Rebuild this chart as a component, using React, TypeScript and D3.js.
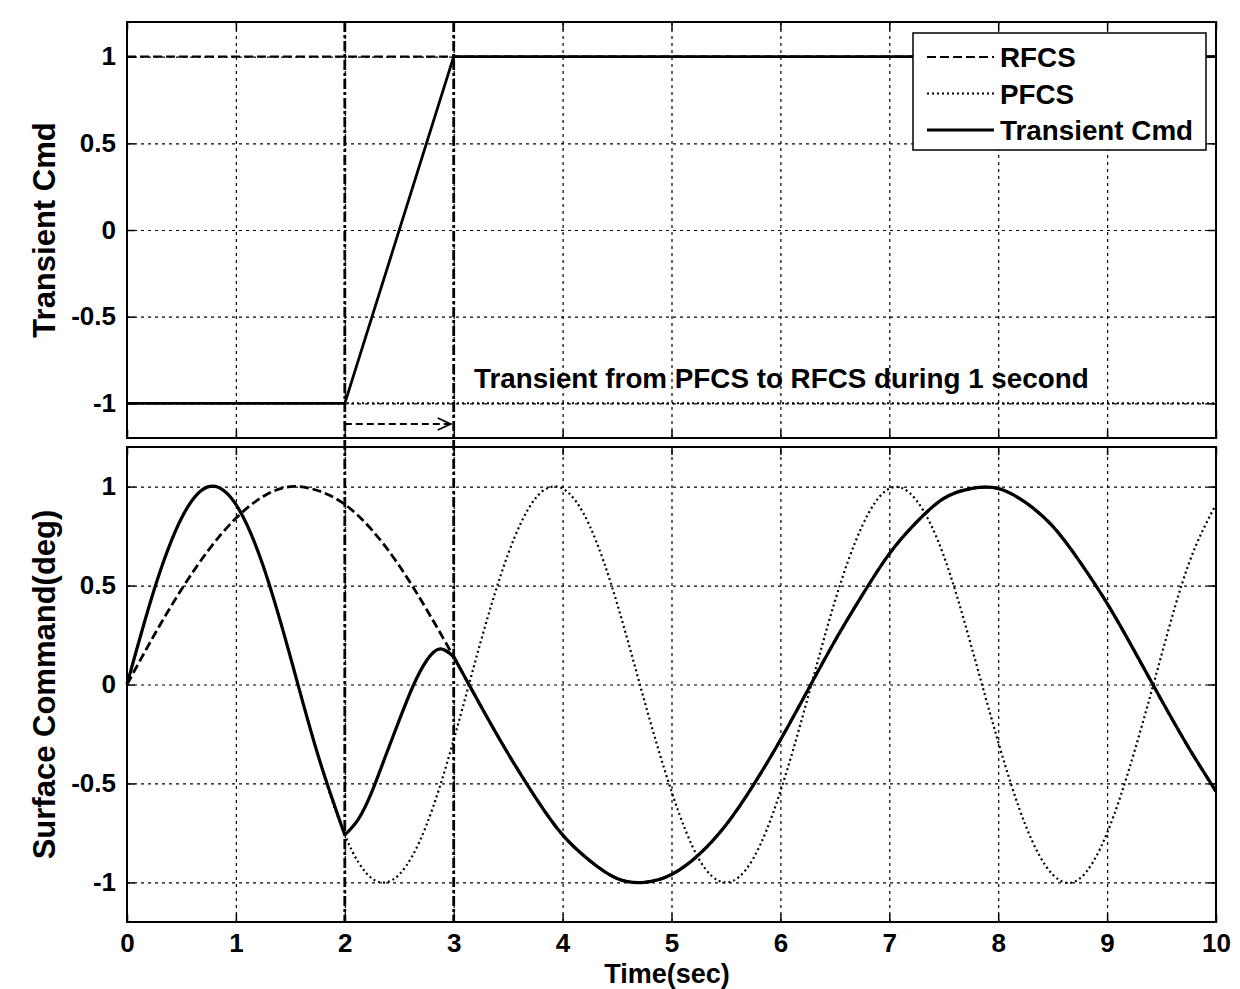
import React, { useEffect, useRef } from "react";
import * as d3 from "d3";

const W = 1240,
  H = 989;
const plotLeft = 127,
  plotRight = 1216;
const topBox = { y0: 22, y1: 438 };
const botBox = { y0: 447, y1: 922 };
const font = "'Liberation Sans', Arial, Helvetica, sans-serif";

// axes
const xTicks = [0, 1, 2, 3, 4, 5, 6, 7, 8, 9, 10];
const yTicks = [-1, -0.5, 0, 0.5, 1];
const yTickLabels = ["-1", "-0.5", "0", "0.5", "1"];

// bottom panel, values every 0.25 s
const timeSurface = [
  0, 0.25, 0.5, 0.75, 1, 1.25, 1.5, 1.75, 2, 2.25, 2.5, 2.75, 3, 3.25, 3.5, 3.75, 4, 4.25, 4.5, 4.75, 5,
  5.25, 5.5, 5.75, 6, 6.25, 6.5, 6.75, 7, 7.25, 7.5, 7.75, 8, 8.25, 8.5, 8.75, 9, 9.25, 9.5, 9.75, 10,
];
const rfcsSurface = [
  0, 0.25, 0.48, 0.68, 0.84, 0.95, 1.0, 0.98, 0.91, 0.78, 0.6, 0.38, 0.14, -0.11, -0.35, -0.57, -0.76,
  -0.89, -0.98, -1.0, -0.96, -0.86, -0.71, -0.51, -0.28, -0.03, 0.22, 0.45, 0.66, 0.82, 0.94, 0.99, 0.99,
  0.92, 0.8, 0.62, 0.41, 0.17, -0.08, -0.32, -0.54,
];
const pfcsSurface = [
  0, 0.48, 0.84, 1.0, 0.91, 0.6, 0.14, -0.35, -0.76, -0.98, -0.96, -0.71, -0.28, 0.22, 0.66, 0.94, 0.99,
  0.8, 0.41, -0.08, -0.54, -0.88, -1.0, -0.88, -0.54, -0.07, 0.42, 0.8, 0.99, 0.93, 0.65, 0.2, -0.29,
  -0.71, -0.96, -0.98, -0.75, -0.34, 0.15, 0.61, 0.91,
];
const transientTime = [
  0, 0.25, 0.5, 0.75, 1, 1.25, 1.5, 1.75, 2, 2.125, 2.25, 2.375, 2.5, 2.625, 2.75, 2.875, 3, 3.25, 3.5,
  3.75, 4, 4.25, 4.5, 4.75, 5, 5.25, 5.5, 5.75, 6, 6.25, 6.5, 6.75, 7, 7.25, 7.5, 7.75, 8, 8.25, 8.5,
  8.75, 9, 9.25, 9.5, 9.75, 10,
];
const transientSurface = [
  0, 0.48, 0.84, 1.0, 0.91, 0.6, 0.14, -0.35, -0.76, -0.68, -0.54, -0.36, -0.18, -0.01, 0.12, 0.18,
  0.14, -0.11, -0.35, -0.57, -0.76, -0.89, -0.98, -1.0, -0.96, -0.86, -0.71, -0.51, -0.28, -0.03, 0.22,
  0.45, 0.66, 0.82, 0.94, 0.99, 0.99, 0.92, 0.8, 0.62, 0.41, 0.17, -0.08, -0.32, -0.54,
];

// top panel
const cmdTime = [0, 2, 3, 10];
const transientCmd = [-1, -1, 1, 1];
const flatTime = [0, 10];
const rfcsCmd = [1, 1];
const pfcsCmd = [-1, -1];

const switchTimes = [2, 3];
const legendLabels = ["RFCS", "PFCS", "Transient Cmd"];
const legendDash = ["9,4", "2,3", null];
const annotation = "Transient from PFCS to RFCS during 1 second";

const App = () => {
  const ref = useRef<SVGSVGElement>(null);

  useEffect(() => {
    const svg = d3.select(ref.current);
    svg.selectAll("*").remove();

    const x = d3.scaleLinear().domain([0, 10]).range([plotLeft, plotRight]);
    const yTop = d3.scaleLinear().domain([-1.2, 1.2]).range([topBox.y1, topBox.y0]);
    const yBot = d3.scaleLinear().domain([-1.2, 1.2]).range([botBox.y1, botBox.y0]);

    const panel = (y: d3.ScaleLinear<number, number>, box: { y0: number; y1: number }, showX: boolean) => {
      const g = svg.append("g");
      const h = box.y1 - box.y0;
      const w = plotRight - plotLeft;
      g.append("rect")
        .attr("x", plotLeft)
        .attr("y", box.y0)
        .attr("width", w)
        .attr("height", h)
        .attr("fill", "#fff");

      // dotted grid
      const gx = g
        .append("g")
        .attr("transform", `translate(0,${box.y1})`)
        .call(d3.axisBottom(x).tickValues(xTicks.slice(1, -1)).tickSize(-h).tickFormat(() => ""));
      const gy = g
        .append("g")
        .attr("transform", `translate(${plotLeft},0)`)
        .call(d3.axisLeft(y).tickValues(yTicks).tickSize(-w).tickFormat(() => ""));
      [gx, gy].forEach((a) => {
        a.select(".domain").remove();
        a.selectAll("line").attr("stroke", "#000").attr("stroke-width", 1.2).attr("stroke-dasharray", "3,4");
      });

      // inside ticks and labels
      const ax = g
        .append("g")
        .attr("transform", `translate(0,${box.y1})`)
        .call(
          d3
            .axisBottom(x)
            .tickValues(xTicks)
            .tickSize(-8)
            .tickPadding(12)
            .tickFormat((d) => (showX ? d3.format("d")(d as number) : ""))
        );
      const ax2 = g
        .append("g")
        .attr("transform", `translate(0,${box.y0})`)
        .call(d3.axisTop(x).tickValues(xTicks).tickSize(-8).tickFormat(() => ""));
      const ay = g
        .append("g")
        .attr("transform", `translate(${plotLeft},0)`)
        .call(
          d3
            .axisLeft(y)
            .tickValues(yTicks)
            .tickSize(-8)
            .tickPadding(11)
            .tickFormat((d, i) => yTickLabels[i])
        );
      const ay2 = g
        .append("g")
        .attr("transform", `translate(${plotRight},0)`)
        .call(d3.axisRight(y).tickValues(yTicks).tickSize(-8).tickFormat(() => ""));
      [ax, ax2, ay, ay2].forEach((a) => {
        a.select(".domain").remove();
        a.selectAll("line").attr("stroke", "#000").attr("stroke-width", 1.5);
        a.selectAll("text")
          .attr("fill", "#000")
          .attr("font-family", font)
          .attr("font-weight", "bold")
          .attr("font-size", 26);
      });
      return g;
    };

    const gTop = panel(yTop, topBox, false);
    const gBot = panel(yBot, botBox, true);

    const series = (
      g: d3.Selection<SVGGElement, unknown, null, undefined>,
      t: number[],
      v: number[],
      y: d3.ScaleLinear<number, number>,
      dash: string | null,
      width: number,
      curve: d3.CurveFactory
    ) => {
      const line = d3
        .line<number>()
        .x((d, i) => x(t[i]))
        .y((d) => y(d))
        .curve(curve);
      g.append("path")
        .attr("d", line(v))
        .attr("fill", "none")
        .attr("stroke", "#000")
        .attr("stroke-width", width)
        .attr("stroke-dasharray", dash);
    };

    // top panel lines
    series(gTop, flatTime, rfcsCmd, yTop, "9,4", 2.4, d3.curveLinear);
    series(gTop, flatTime, pfcsCmd, yTop, "2,3", 2, d3.curveLinear);
    series(gTop, cmdTime, transientCmd, yTop, null, 2.8, d3.curveLinear);

    // bottom panel lines
    series(gBot, timeSurface, rfcsSurface, yBot, "9,4", 2.8, d3.curveNatural);
    series(gBot, timeSurface, pfcsSurface, yBot, "2,3", 2.2, d3.curveNatural);
    const i2 = transientTime.indexOf(2);
    const i3 = transientTime.indexOf(3);
    [
      [0, i2],
      [i2, i3],
      [i3, transientTime.length - 1],
    ].forEach(([a, b]) => {
      series(
        gBot,
        transientTime.slice(a, b + 1),
        transientSurface.slice(a, b + 1),
        yBot,
        null,
        3.2,
        d3.curveNatural
      );
    });

    // boxes
    [topBox, botBox].forEach((b) => {
      svg
        .append("rect")
        .attr("x", plotLeft)
        .attr("y", b.y0)
        .attr("width", plotRight - plotLeft)
        .attr("height", b.y1 - b.y0)
        .attr("fill", "none")
        .attr("stroke", "#000")
        .attr("stroke-width", 2);
    });

    // switch markers
    svg
      .selectAll(".switch")
      .data(switchTimes)
      .enter()
      .append("line")
      .attr("x1", (d) => x(d))
      .attr("x2", (d) => x(d))
      .attr("y1", topBox.y0)
      .attr("y2", botBox.y1)
      .attr("stroke", "#000")
      .attr("stroke-width", 2.8)
      .attr("stroke-dasharray", "10,3,3,3");

    // arrow
    const ay = 424;
    svg
      .append("line")
      .attr("x1", x(2))
      .attr("x2", x(3) - 3)
      .attr("y1", ay)
      .attr("y2", ay)
      .attr("stroke", "#000")
      .attr("stroke-width", 1.8)
      .attr("stroke-dasharray", "7,4");
    svg
      .append("path")
      .attr("d", `M${x(3) - 16},${ay - 6} L${x(3) - 3},${ay} L${x(3) - 16},${ay + 6}`)
      .attr("fill", "none")
      .attr("stroke", "#000")
      .attr("stroke-width", 1.8);

    svg
      .append("text")
      .attr("x", 474)
      .attr("y", 388)
      .attr("font-family", font)
      .attr("font-weight", "bold")
      .attr("font-size", 27.8)
      .text(annotation);

    // legend
    const lg = svg.append("g");
    lg.append("rect")
      .attr("x", 913)
      .attr("y", 33)
      .attr("width", 293)
      .attr("height", 117)
      .attr("fill", "#fff")
      .attr("stroke", "#000")
      .attr("stroke-width", 1.5);
    legendLabels.forEach((lab, i) => {
      const cy = 57 + i * 36.5;
      lg.append("line")
        .attr("x1", 927)
        .attr("x2", 994)
        .attr("y1", cy)
        .attr("y2", cy)
        .attr("stroke", "#000")
        .attr("stroke-width", i === 2 ? 2.8 : 2.2)
        .attr("stroke-dasharray", legendDash[i]);
      lg.append("text")
        .attr("x", 1000)
        .attr("y", cy + 10)
        .attr("font-family", font)
        .attr("font-weight", "bold")
        .attr("font-size", 27.8)
        .text(lab);
    });

    // axis titles
    const title = (txt: string, tx: number, ty: number, rot: boolean, size: number) =>
      svg
        .append("text")
        .attr("transform", `translate(${tx},${ty})${rot ? " rotate(-90)" : ""}`)
        .attr("text-anchor", "middle")
        .attr("font-family", font)
        .attr("font-weight", "bold")
        .attr("font-size", size)
        .text(txt);
    title("Transient Cmd", 55, (topBox.y0 + topBox.y1) / 2, true, 31);
    title("Surface Command(deg)", 55, (botBox.y0 + botBox.y1) / 2, true, 31);
    title("Time(sec)", 667, 983, false, 27);
  }, []);

  return (
    <svg
      ref={ref}
      width={W}
      height={H}
      style={{ position: "absolute", left: 0, top: 0, background: "#fff" }}
    />
  );
};

export default App;
